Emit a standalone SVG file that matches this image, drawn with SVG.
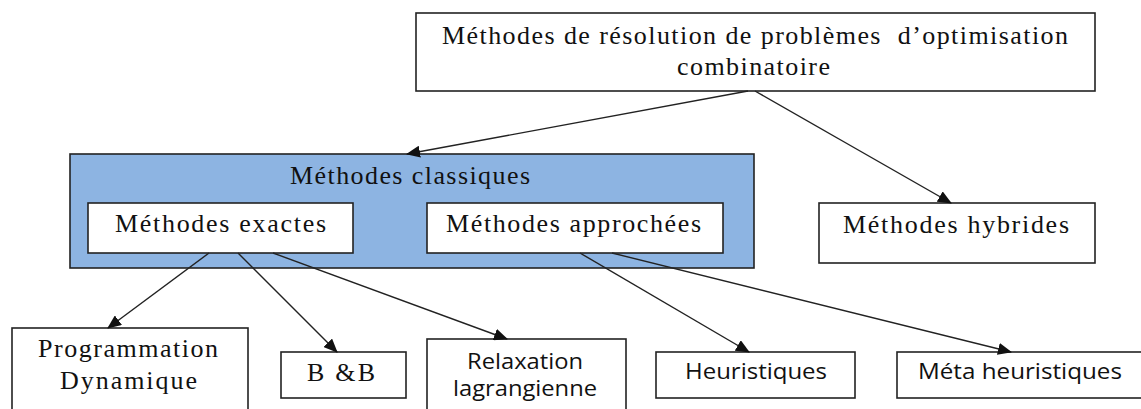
<svg xmlns="http://www.w3.org/2000/svg" width="1141" height="409" viewBox="0 0 1141 409">
  <style>
    .box { fill: #ffffff; stroke: #222222; stroke-width: 1.6; }
    .group { fill: #8db4e2; stroke: #222222; stroke-width: 1.6; }
    .serif { font-family: "Liberation Serif", "DejaVu Serif", serif; font-size: 26px; fill: #111111; }
    .sans { font-family: "Open Sans", "Liberation Sans", sans-serif; font-size: 22px; fill: #111111; }
    .link { stroke: #222222; stroke-width: 1.4; fill: none; marker-end: url(#arrow); }
  </style>
  <defs>
    <marker id="arrow" viewBox="0 0 14 12" refX="13" refY="6" markerWidth="14" markerHeight="12" markerUnits="userSpaceOnUse" orient="auto">
      <path d="M0,0 L14,6 L0,12 Z" fill="#111111"/>
    </marker>
  </defs>

  <rect width="1141" height="409" fill="#ffffff"/>

  <!-- root -->
  <g id="root">
    <rect class="box" x="416" y="13" width="679" height="78"/>
    <text class="serif" x="442" y="44" textLength="626" lengthAdjust="spacing">Méthodes de résolution de problèmes &#160;d’optimisation</text>
    <text class="serif" x="677" y="75" textLength="153" lengthAdjust="spacing">combinatoire</text>
  </g>

  <!-- classical methods container -->
  <g id="classiques">
    <rect class="group" x="70" y="154" width="684" height="114"/>
    <text class="serif" x="290" y="184" textLength="240" lengthAdjust="spacing">Méthodes classiques</text>
  </g>

  <g id="exactes">
    <rect class="box" x="88" y="203" width="265" height="50"/>
    <text class="serif" x="115" y="232" textLength="211" lengthAdjust="spacing">Méthodes exactes</text>
  </g>

  <g id="approchees">
    <rect class="box" x="427" y="203" width="296" height="50"/>
    <text class="serif" x="446" y="232" textLength="255" lengthAdjust="spacing">Méthodes approchées</text>
  </g>

  <g id="hybrides">
    <rect class="box" x="819" y="203" width="276" height="60"/>
    <text class="serif" x="843" y="233" textLength="226" lengthAdjust="spacing">Méthodes hybrides</text>
  </g>

  <!-- leaves -->
  <g id="prog-dyn">
    <rect class="box" x="12" y="328" width="236" height="90"/>
    <text class="serif" x="38" y="357" textLength="180" lengthAdjust="spacing">Programmation</text>
    <text class="serif" x="60" y="389" textLength="137" lengthAdjust="spacing">Dynamique</text>
  </g>

  <g id="bb">
    <rect class="box" x="281" y="352" width="125" height="46"/>
    <text class="serif" x="307" y="381" textLength="68" lengthAdjust="spacing">B &amp;B</text>
  </g>

  <g id="relaxation">
    <rect class="box" x="427" y="339" width="199" height="80"/>
    <text class="sans" x="467" y="369" textLength="116" lengthAdjust="spacingAndGlyphs">Relaxation</text>
    <text class="sans" x="453" y="396" textLength="144" lengthAdjust="spacingAndGlyphs">lagrangienne</text>
  </g>

  <g id="heuristiques">
    <rect class="box" x="656" y="352" width="199" height="46"/>
    <text class="sans" x="685" y="379" textLength="142" lengthAdjust="spacingAndGlyphs">Heuristiques</text>
  </g>

  <g id="meta">
    <rect class="box" x="897" y="352" width="250" height="46"/>
    <text class="sans" x="918" y="379" textLength="204" lengthAdjust="spacingAndGlyphs">Méta heuristiques</text>
  </g>

  <!-- connectors -->
  <g id="connectors">
    <line class="link" x1="748" y1="91" x2="407" y2="154"/>
    <line class="link" x1="755" y1="91" x2="951" y2="203"/>
    <line class="link" x1="209" y1="253" x2="108" y2="328"/>
    <line class="link" x1="238" y1="253" x2="337" y2="352"/>
    <line class="link" x1="273" y1="253" x2="507" y2="339"/>
    <line class="link" x1="580" y1="253" x2="749" y2="352"/>
    <line class="link" x1="612" y1="253" x2="1011" y2="352"/>
  </g>
</svg>
